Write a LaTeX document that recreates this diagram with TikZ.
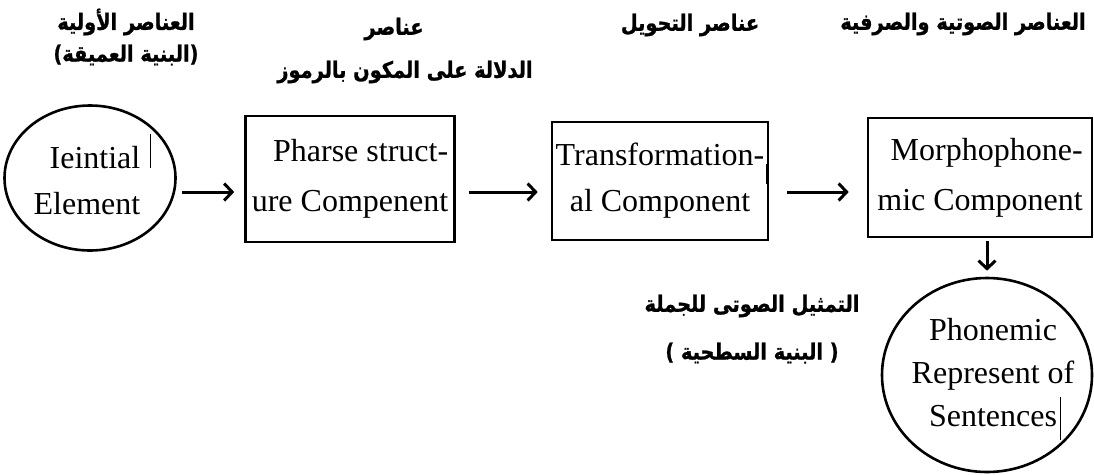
\documentclass[tikz,border=0pt]{standalone}
\usepackage{graphicx}
\usepackage{fontspec}
\setmainfont{Liberation Serif}
\newfontfamily\arabicfont[Script=Arabic,BoldFeatures={FakeBold=1.2}]{DejaVu Sans}
\TeXXeTstate=1
\newcommand{\artext}[1]{\scalebox{0.86}[1]{\beginR #1\endR}}
\usetikzlibrary{arrows.meta,shapes.geometric}
\begin{document}
\begin{tikzpicture}[x=1pt,y=-1pt,
  comp/.style={draw,line width=2.6pt,inner sep=0pt},
  oval/.style={draw,ellipse,line width=2.6pt,inner sep=0pt},
  etext/.style={inner sep=0pt},
  arlabel/.style={inner sep=0pt,font=\arabicfont\bfseries\fontsize{22.5}{22.5}\selectfont},
  arr/.style={line width=3pt,-{Straight Barb[length=8pt,width=17pt]}},
  scrap/.style={line width=0.8pt}
]
\useasboundingbox (0,0) rectangle (1094,474);

% shapes
\node[oval,minimum width=171pt,minimum height=145pt] (e1) at (90,178) {};
\node[etext,align=right,font=\fontsize{32}{46}\selectfont] (e1t) at ([xshift=-3pt,yshift=-3pt]e1.center)
  {Ieintial\\Element};
\node[comp,minimum width=209pt,minimum height=126pt,align=right,
  font=\fontsize{32}{50}\selectfont] (b2) at (350,179)
  {Pharse struct-\\ure Compenent};
\node[comp,minimum width=216pt,minimum height=118pt,align=center,
  font=\fontsize{32}{46}\selectfont] (b3) at (660,181)
  {Transformation-\\al Component};
\node[comp,minimum width=224pt,minimum height=119pt,align=right,
  font=\fontsize{32}{50}\selectfont] (b4) at (980,177.5)
  {Morphophone-\\mic Component};
\node[oval,minimum width=210pt,minimum height=194pt] (c5) at (987,375) {};
\node[etext,align=center,font=\fontsize{32}{43}\selectfont] (c5t) at ([xshift=6pt,yshift=2pt]c5.center)
  {Phonemic\\Represent of\\Sentences};

% connectors
\draw[arr,shorten <=5pt,shorten >=10pt] ([yshift=-13pt]b2.west -| e1.east) -- ([yshift=-13pt]b2.west);
\draw[arr,shorten <=13pt,shorten >=13pt] ([yshift=-13pt]b2.east) -- ([yshift=-13pt]b2.east -| b3.west);
\draw[arr,shorten <=18pt,shorten >=18pt] ([yshift=-11pt]b3.east) -- ([yshift=-11pt]b3.east -| b4.west);
\draw[arr,shorten <=3pt,shorten >=6pt] (b4.south -| c5.north) -- (c5.north);

% small scan strokes
\draw[scrap] ([xshift=60pt,yshift=44pt]e1.center) -- ([xshift=60pt,yshift=10pt]e1.center);
\draw[scrap] ([xshift=-3pt,yshift=17pt]b3.east) -- ([xshift=-3pt,yshift=-3pt]b3.east);
\draw[scrap] ([xshift=73pt,yshift=-22pt]c5.center) -- ([xshift=73pt,yshift=-65pt]c5.center);

% Arabic labels
\node[arlabel] (t1) at (126,22) {\artext{العناصر الأولية}};
\node[arlabel] (t2) at (126,55) {\artext{(البنية العميقة)}};
\node[arlabel] (t3) at (394,29) {\artext{عناصر}};
\node[arlabel] (t4) at (405,72) {\artext{الدلالة على المكون بالرموز}};
\node[arlabel] (t5) at (690,25) {\artext{عناصر التحويل}};
\node[arlabel] (t6) at (963,24) {\artext{العناصر الصوتية والصرفية}};
\node[arlabel] (t7) at (752,306) {\artext{التمثيل الصوتى للجملة}};
\node[arlabel] (t8) at (752,353) {\artext{( البنية السطحية )}};
\end{tikzpicture}
\end{document}
